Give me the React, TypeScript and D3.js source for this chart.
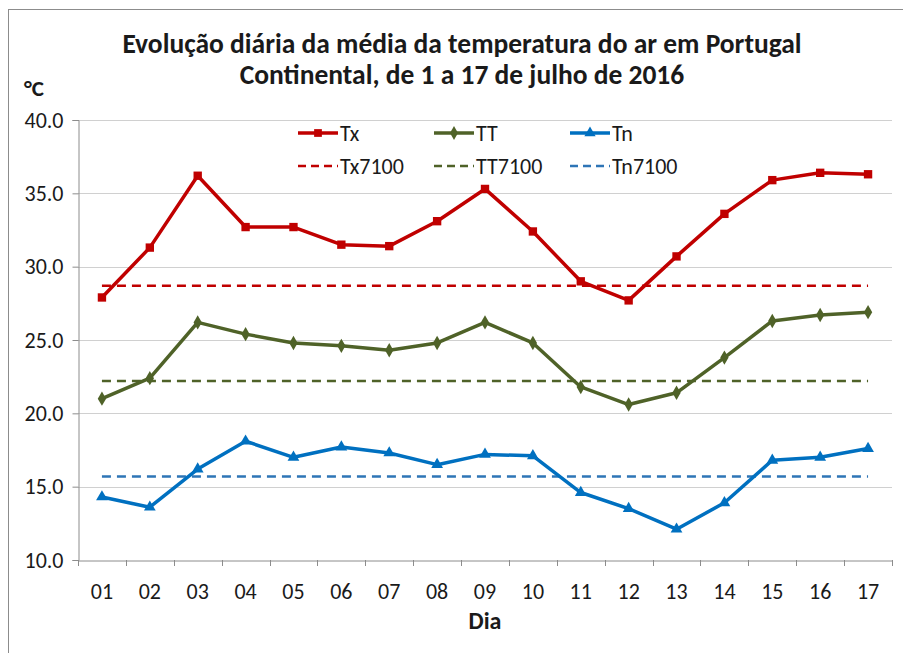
import * as d3 from 'd3';
import { useEffect, useRef } from 'react';

// dias de julho
const days = ['01', '02', '03', '04', '05', '06', '07', '08', '09', '10', '11', '12', '13', '14', '15', '16', '17'];

// temperatura máxima, média e mínima (°C)
const tx = [27.9, 31.3, 36.2, 32.7, 32.7, 31.5, 31.4, 33.1, 35.3, 32.4, 29.0, 27.7, 30.7, 33.6, 35.9, 36.4, 36.3];
const tt = [21.0, 22.4, 26.2, 25.4, 24.8, 24.6, 24.3, 24.8, 26.2, 24.8, 21.8, 20.6, 21.4, 23.8, 26.3, 26.7, 26.9];
const tn = [14.3, 13.6, 16.2, 18.1, 17.0, 17.7, 17.3, 16.5, 17.2, 17.1, 14.6, 13.5, 12.1, 13.9, 16.8, 17.0, 17.6];

// normais 1971-2000
const tx7100 = 28.7;
const tt7100 = 22.2;
const tn7100 = 15.7;

const yTicks = [10, 15, 20, 25, 30, 35, 40];

const FONT = "Carlito, 'Liberation Sans Narrow', 'DejaVu Sans Condensed', sans-serif";

const App = () => {
  const ref = useRef<SVGSVGElement>(null);

  const width = 903;
  const height = 653;
  const margin = { top: 120, right: 11, bottom: 93, left: 78 };
  const boundsWidth = width - margin.left - margin.right;
  const boundsHeight = height - margin.top - margin.bottom;

  useEffect(() => {
    const svg = d3.select(ref.current);
    svg.selectAll('*').remove();

    // moldura
    svg.append('rect')
      .attr('x', 8.5).attr('y', 9.5)
      .attr('width', width).attr('height', height)
      .attr('fill', 'white').attr('stroke', '#8c8c8c').attr('stroke-width', 1);

    const scaleX = d3.scaleBand().domain(days).range([0, boundsWidth]);
    const scaleY = d3.scaleLinear().domain([10, 40]).range([boundsHeight, 0]);

    const g = svg.append('g').attr('transform', `translate(${margin.left}, ${margin.top})`);

    // grelha
    g.selectAll('.grid')
      .data(yTicks.slice(1))
      .enter()
      .append('line')
      .attr('x1', 0).attr('x2', boundsWidth)
      .attr('y1', d => Math.round(scaleY(d)) + 0.5)
      .attr('y2', d => Math.round(scaleY(d)) + 0.5)
      .attr('stroke', '#d0d0d0');

    // eixo Y
    const yAxis = d3.axisLeft(scaleY).tickValues(yTicks).tickSize(6).tickFormat(d3.format('.1f'));
    const ya = g.append('g').attr('transform', 'translate(0.5,0)').call(yAxis);
    ya.select('.domain').attr('stroke', '#8c8c8c');
    ya.selectAll('line').attr('stroke', '#8c8c8c');
    ya.selectAll('text')
      .attr('x', -15)
      .style('font-family', FONT).style('font-size', '22px').attr('fill', '#1a1a1a');

    // eixo X
    const xAxis = d3.axisBottom(scaleX).tickSize(0);
    const xa = g.append('g').attr('transform', `translate(0, ${boundsHeight + 0.5})`).call(xAxis);
    xa.select('.domain').attr('stroke', '#8c8c8c');
    xa.selectAll('text')
      .attr('dy', '1.6em')
      .style('font-family', FONT).style('font-size', '22px').attr('fill', '#1a1a1a');
    // marcas entre categorias
    g.selectAll('.xtick')
      .data([...days.map(d => scaleX(d) as number), boundsWidth])
      .enter()
      .append('line')
      .attr('x1', d => Math.round(d) + 0.5).attr('x2', d => Math.round(d) + 0.5)
      .attr('y1', boundsHeight).attr('y2', boundsHeight + 6)
      .attr('stroke', '#8c8c8c');

    const cx = (d: string) => (scaleX(d) as number) + scaleX.bandwidth() / 2;

    // normais (tracejado)
    const normals = [
      { v: tx7100, color: '#c00000' },
      { v: tt7100, color: '#4f6228' },
      { v: tn7100, color: '#2e75b6' },
    ];
    normals.forEach(n => {
      g.append('line')
        .attr('x1', cx(days[0])).attr('x2', cx(days[days.length - 1]))
        .attr('y1', scaleY(n.v)).attr('y2', scaleY(n.v))
        .attr('stroke', n.color).attr('stroke-width', 2.5)
        .attr('stroke-dasharray', '9,6');
    });

    const series = [
      { data: tx, color: '#c00000', sym: d3.symbolSquare, size: 70 },
      { data: tt, color: '#4f6228', sym: d3.symbolDiamond, size: 60 },
      { data: tn, color: '#0070c0', sym: d3.symbolTriangle, size: 60 },
    ];

    const line = d3.line<number>()
      .x((_, i) => cx(days[i]))
      .y(d => scaleY(d));

    series.forEach(s => {
      g.append('path')
        .datum(s.data)
        .attr('d', line)
        .attr('fill', 'none')
        .attr('stroke', s.color)
        .attr('stroke-width', 3.5)
        .attr('stroke-linejoin', 'round');
      g.selectAll(null)
        .data(s.data)
        .enter()
        .append('path')
        .attr('d', d3.symbol().type(s.sym).size(s.size))
        .attr('transform', (d, i) => `translate(${cx(days[i])}, ${scaleY(d)})`)
        .attr('fill', s.color);
    });

    // legenda
    const legend = [
      { name: 'Tx', color: '#c00000', sym: d3.symbolSquare, size: 60, dash: false },
      { name: 'TT', color: '#4f6228', sym: d3.symbolDiamond, size: 55, dash: false },
      { name: 'Tn', color: '#0070c0', sym: d3.symbolTriangle, size: 55, dash: false },
      { name: 'Tx7100', color: '#c00000', sym: null, size: 0, dash: true },
      { name: 'TT7100', color: '#4f6228', sym: null, size: 0, dash: true },
      { name: 'Tn7100', color: '#2e75b6', sym: null, size: 0, dash: true },
    ];
    const legX = [298, 434, 570];
    const legY = [133, 166];
    legend.forEach((l, i) => {
      const x = legX[i % 3];
      const y = legY[Math.floor(i / 3)];
      svg.append('line')
        .attr('x1', x).attr('x2', x + 40)
        .attr('y1', y).attr('y2', y)
        .attr('stroke', l.color).attr('stroke-width', l.dash ? 2.5 : 3.5)
        .attr('stroke-dasharray', l.dash ? '8,5' : null);
      if (l.sym) {
        svg.append('path')
          .attr('d', d3.symbol().type(l.sym).size(l.size))
          .attr('transform', `translate(${x + 20}, ${y})`)
          .attr('fill', l.color);
      }
      svg.append('text')
        .attr('x', x + 42).attr('y', y)
        .attr('dominant-baseline', 'central')
        .style('font-family', FONT).style('font-size', '22px')
        .attr('fill', '#1a1a1a')
        .text(l.name);
    });

    // títulos
    const title = [
      'Evolução diária da média da temperatura do ar em Portugal',
      'Continental, de 1 a 17 de julho de 2016',
    ];
    title.forEach((t, i) => {
      svg.append('text')
        .attr('x', 462).attr('y', 53 + i * 31)
        .attr('text-anchor', 'middle')
        .style('font-family', FONT).style('font-size', '27.5px').style('font-weight', 'bold')
        .attr('fill', '#1a1a1a')
        .text(t);
    });

    svg.append('text')
      .attr('x', 24).attr('y', 96)
      .style('font-family', FONT).style('font-size', '23px').style('font-weight', 'bold')
      .attr('fill', '#1a1a1a')
      .text('°C');

    svg.append('text')
      .attr('x', margin.left + boundsWidth / 2).attr('y', 629)
      .attr('text-anchor', 'middle')
      .style('font-family', FONT).style('font-size', '24px').style('font-weight', 'bold')
      .attr('fill', '#1a1a1a')
      .text('Dia');
  }, []);

  return (
    <svg
      ref={ref}
      width={width}
      height={height}
      style={{ position: 'absolute', left: 0, top: 0, display: 'block' }}
    ></svg>
  );
};

export default App;
